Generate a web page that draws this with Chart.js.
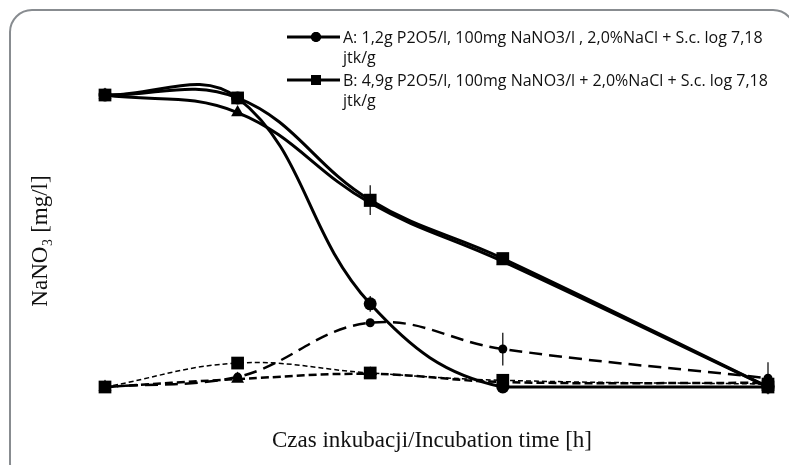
<!DOCTYPE html>
<html>
<head>
  <title>NaNO3 incubation</title>
  <script src="https://cdn.jsdelivr.net/npm/chart.js"></script>
  <style>
    html, body { margin: 0; padding: 0; background: #fff; }
    #wrap { width: 789px; height: 465px; }
  </style>
</head>
<body>
  <div id="wrap"><canvas id="nitrateChart" width="789" height="465"></canvas></div>

  <script>
    // incubation time points [h]
    const hours = [0, 24, 48, 72, 120];

    // NaNO3 [mg/l], solid curves
    const seriesA = [100, 99, 28.5, 0, 0];
    const seriesB = [100, 99, 64, 44, 0];
    const seriesC = [100, 94, 63, 43, 0];
    // dashed curves
    const seriesA2 = [0, 3.4, 22, 13, 3];
    const seriesB2 = [0, 8.2, 4.8, 2.3, 1];
    const seriesC2 = [0, 2.7, 4.5, 1.7, 1.4];

    // error bar half-widths
    const errA = [0, 0, 2.7, 0, 0];
    const errB = [0, 0, 5.1, 0, 0];
    const errA2 = [0, 0, 0, 5.6, 5.5];

    const labelA = ['A: 1,2g P2O5/l, 100mg NaNO3/l , 2,0%NaCl + S.c. log 7,18', 'jtk/g'];
    const labelB = ['B: 4,9g P2O5/l, 100mg NaNO3/l + 2,0%NaCl + S.c. log 7,18', 'jtk/g'];
    const xTitle = 'Czas inkubacji/Incubation time [h]';
    const yTitle = 'NaNO₃ [mg/l]';

    const toPoints = arr => hours.map((h, i) => ({ x: h, y: arr[i] }));

    function ds(label, arr, style, radius, width, dash, err, inLegend) {
      return {
        label: label,
        data: toPoints(arr),
        borderColor: '#000',
        backgroundColor: '#000',
        borderWidth: width,
        borderDash: dash,
        pointStyle: style,
        pointRadius: radius,
        pointBorderWidth: 0,
        tension: 0.4,
        clip: false,
        errors: err,
        inLegend: inLegend
      };
    }

    const datasets = [
      ds(labelA, seriesA, 'circle', 6.5, 3, [], errA, true),
      ds(labelB, seriesB, 'rect', 9, 3, [], errB, true),
      ds('C', seriesC, 'triangle', 7.5, 3, [], null, false),
      ds('A dashed', seriesA2, 'circle', 4.5, 2.5, [13, 7], errA2, false),
      ds('B dashed', seriesB2, 'rect', 9, 1.5, [5, 3], null, false),
      ds('C dashed', seriesC2, 'triangle', 7.5, 2.5, [8, 4], null, false)
    ];

    const frame = {
      id: 'frame',
      beforeDraw(chart) {
        const c = chart.ctx;
        c.save();
        c.fillStyle = '#fff';
        c.fillRect(0, 0, chart.width, chart.height);
        c.strokeStyle = '#888c90';
        c.lineWidth = 2;
        c.beginPath();
        c.roundRect(10, 10, 785, 475, 22);
        c.stroke();
        c.restore();
      }
    };

    const errorBars = {
      id: 'errorBars',
      afterDatasetsDraw(chart) {
        const c = chart.ctx;
        const xs = chart.scales.x, ys = chart.scales.y;
        c.save();
        c.strokeStyle = '#000';
        c.lineWidth = 1.2;
        chart.data.datasets.forEach(d => {
          if (!d.errors) return;
          d.errors.forEach((e, i) => {
            if (!e) return;
            const px = xs.getPixelForValue(d.data[i].x);
            c.beginPath();
            c.moveTo(px, ys.getPixelForValue(d.data[i].y + e));
            c.lineTo(px, ys.getPixelForValue(d.data[i].y - e));
            c.stroke();
          });
        });
        c.restore();
      }
    };

    const texts = {
      id: 'texts',
      afterDraw(chart) {
        const c = chart.ctx;
        c.save();
        c.fillStyle = '#111';
        // axis titles
        c.font = '23px "Liberation Serif", "DejaVu Serif", serif';
        c.textAlign = 'center';
        c.textBaseline = 'middle';
        c.fillText(xTitle, 432, 441);
        c.translate(41, 241);
        c.rotate(-Math.PI / 2);
        c.fillText(yTitle, 0, 0);
        c.restore();

        // legend
        c.save();
        let size = 14;
        c.font = size + 'px "Open Sans", sans-serif';
        const w = c.measureText(labelA[0]).width;
        size = size * 420 / w;
        c.font = size.toFixed(2) + 'px "Open Sans", sans-serif';
        c.textBaseline = 'middle';
        c.textAlign = 'left';
        let y = 37;
        chart.data.datasets.forEach(d => {
          if (!d.inLegend) return;
          c.strokeStyle = '#000';
          c.lineWidth = 3;
          c.beginPath();
          c.moveTo(287, y);
          c.lineTo(340, y);
          c.stroke();
          Chart.helpers.drawPoint(c, { pointStyle: d.pointStyle, radius: d.pointStyle === 'rect' ? 7 : 5, rotation: 0, borderWidth: 0 }, 316, y);
          c.fillStyle = '#000';
          c.fill();
          c.fillStyle = '#111';
          d.label.forEach((line, k) => c.fillText(line, 343, y + 1 + k * 20.5));
          y += 43;
        });
        c.restore();
      }
    };

    // chart area: top padding leaves room above 100 so the smoothed curves can overshoot
    const chart = new Chart(document.getElementById('nitrateChart').getContext('2d'), {
      type: 'line',
      data: { datasets: datasets },
      options: {
        responsive: false,
        animation: false,
        layout: { padding: { left: 105, right: 21, top: 40, bottom: 78 } },
        scales: {
          x: { type: 'linear', min: 0, max: 120, display: false },
          y: { min: 0, max: 118.84, display: false }
        },
        plugins: {
          legend: { display: false },
          tooltip: { enabled: false }
        }
      },
      plugins: [frame, errorBars, texts]
    });
  </script>
</body>
</html>
